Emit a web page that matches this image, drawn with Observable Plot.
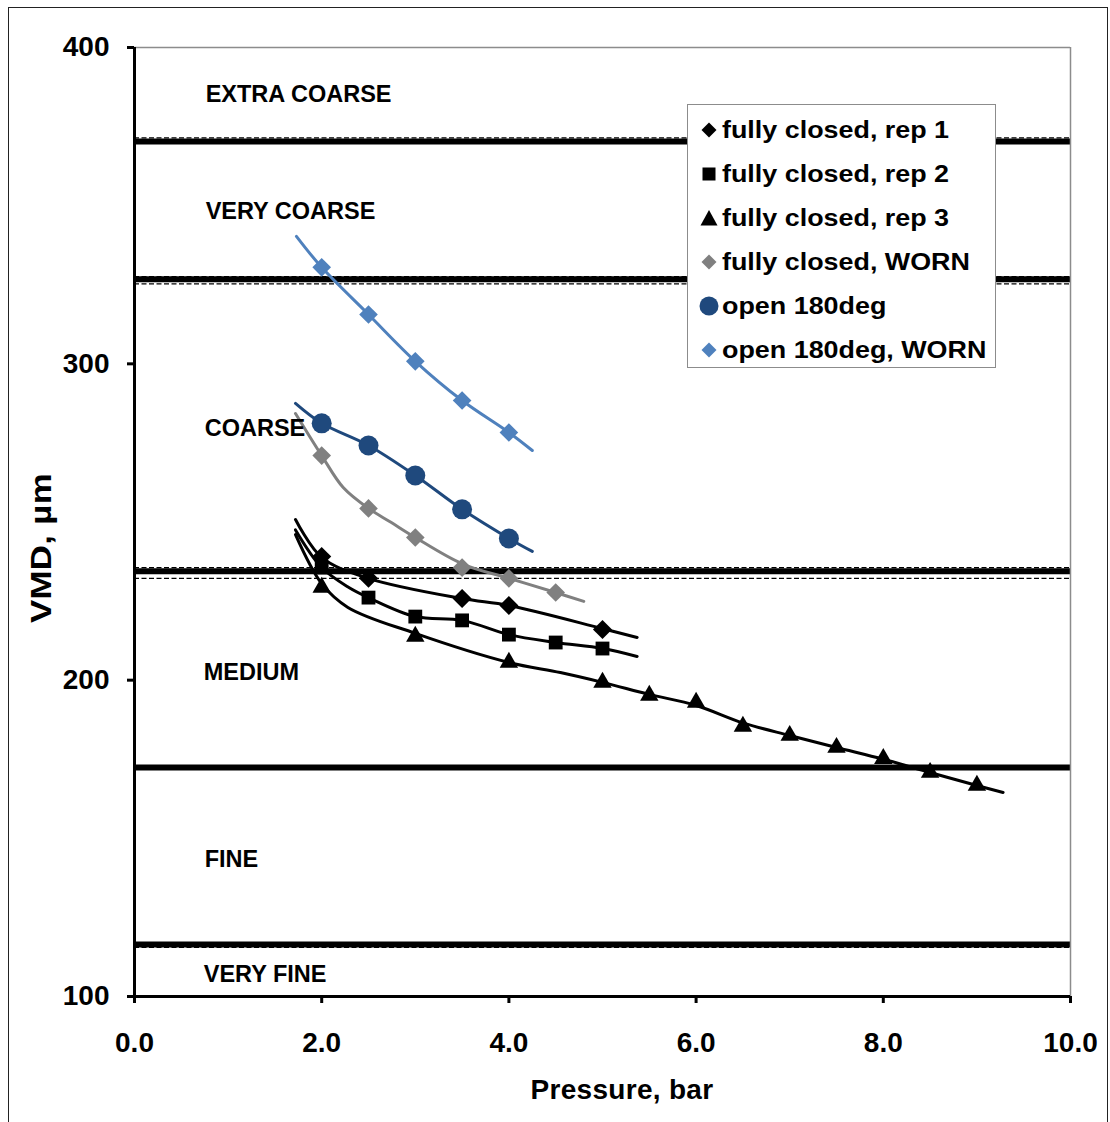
<!DOCTYPE html>
<html>
<head>
<meta charset="utf-8">
<script src="https://cdn.jsdelivr.net/npm/d3@7"></script>
<script src="https://cdn.jsdelivr.net/npm/@observablehq/plot@0.6"></script>
<style>
  body { margin: 0; background: #fff; font-family: "Liberation Sans", Arial, sans-serif; }
  #wrap { position: relative; width: 1110px; height: 1122px; overflow: hidden; background: #fff; }
  #wrap svg.plot { position: absolute; left: 0; top: 0; }
  #border { position: absolute; left: 8px; top: 7px; width: 1100px; height: 1200px; border: 1.5px solid #222; box-sizing: border-box; pointer-events: none; }
  .axis-title { position: absolute; font-weight: bold; font-size: 28px; letter-spacing: 0.3px; color: #000; white-space: nowrap; }
  #xtitle { left: 622px; top: 1090px; transform: translate(-50%, -50%); }
  #ytitle { left: 41px; top: 548px; font-size: 29px; transform: translate(-50%, -50%) rotate(-90deg) scaleX(1.2); }
  #legend { position: absolute; left: 687px; top: 104px; width: 309px; height: 264px; box-sizing: border-box; border: 1.5px solid #8c8c8c; background: #fff; }
  .lrow { position: absolute; left: 0; height: 30px; }
  .lrow svg { position: absolute; left: 11px; top: 5px; }
  .lrow span { position: absolute; left: 34px; top: 50%; transform: translateY(-50%) scaleX(1.12); transform-origin: left center; font-weight: bold; font-size: 24px; white-space: nowrap; color: #000; }
</style>
</head>
<body>
<div id="wrap">
  <div id="border"></div>
  <div id="legend"></div>
  <div id="xtitle" class="axis-title">Pressure, bar</div>
  <div id="ytitle" class="axis-title">VMD, µm</div>
</div>
<script>
// ---------- data ----------
const pressureRep1 = [2, 2.5, 3.5, 4, 5];
const vmdRep1 = [239.1, 232.2, 225.8, 223.6, 216.0];
const pressureRep2 = [2, 2.5, 3, 3.5, 4, 4.5, 5];
const vmdRep2 = [235.6, 226.1, 220.1, 218.9, 214.4, 211.9, 210.0];
const pressureRep3 = [2, 3, 4, 5, 5.5, 6, 6.5, 7, 7.5, 8, 8.5, 9];
const vmdRep3 = [229.3, 213.8, 205.6, 199.3, 195.2, 193.0, 185.4, 182.5, 178.7, 175.2, 170.8, 166.7];
const pressureWorn = [2, 2.5, 3, 3.5, 4, 4.5];
const vmdWorn = [271.0, 254.3, 245.1, 235.6, 232.2, 227.7];
const pressureOpen = [2, 2.5, 3, 3.5, 4];
const vmdOpen = [281.2, 274.2, 264.7, 254.0, 244.8];
const pressureOpenWorn = [2, 2.5, 3, 3.5, 4];
const vmdOpenWorn = [330.5, 315.6, 300.8, 288.4, 278.3];

// trend lines
const trendRep1X = [1.72, 2.0, 2.5, 3.5, 4.0, 5.0, 5.37];
const trendRep1Y = [250.8, 238.8, 232.2, 225.8, 223.6, 216.3, 213.5];
const trendRep2X = [1.72, 2.0, 2.29, 2.5, 3.0, 3.5, 4.0, 4.5, 5.0, 5.37];
const trendRep2Y = [247.5, 235.6, 229.3, 226.1, 220.1, 218.9, 214.4, 211.9, 210.0, 207.5];
const trendRep3X = [1.72, 2.0, 2.28, 3.0, 4.0, 4.55, 5.0, 5.5, 6.0, 6.5, 7.0, 7.5, 8.0, 8.5, 9.0, 9.28];
const trendRep3Y = [246.0, 230.5, 223.0, 214.8, 205.6, 202.4, 199.3, 195.5, 192.0, 186.5, 182.5, 178.7, 175.0, 170.8, 166.7, 164.5];
const trendWornX = [1.72, 2.0, 2.23, 2.5, 2.74, 3.0, 3.5, 4.0, 4.5, 4.8];
const trendWornY = [284.3, 271.0, 260.9, 254.3, 249.9, 245.1, 236.8, 232.2, 227.7, 224.9];
const trendOpenX = [1.72, 2.0, 2.5, 3.0, 3.5, 4.0, 4.25];
const trendOpenY = [287.5, 281.2, 274.2, 264.7, 254.0, 244.8, 240.7];
const trendOpenWornX = [1.73, 2.0, 2.5, 3.0, 3.5, 4.0, 4.25];
const trendOpenWornY = [340.3, 330.5, 315.6, 300.8, 288.4, 278.3, 272.6];

// droplet class boundaries
const classThick = [370.3, 326.7, 234.4, 172.4, 116.4];
const classDashed = [371.4, 327.6, 325.3, 235.6, 232.2, 115.5];
const bandNames = ["EXTRA COARSE", "VERY COARSE", "COARSE", "MEDIUM", "FINE", "VERY FINE"];
const bandVmd = [385.0, 348.2, 279.6, 202.4, 143.3, 107.0];
const bandPressure = [0.76, 0.76, 0.75, 0.74, 0.75, 0.74];

const seriesNames = ["fully closed, rep 1", "fully closed, rep 2", "fully closed, rep 3", "fully closed, WORN", "open 180deg", "open 180deg, WORN"];
const xTicks = [0, 2, 4, 6, 8, 10];
const yTicks = [100, 200, 300, 400];

// ---------- styles ----------
const seriesStyle = [
  {color: "#000000", symbol: "diamond2", r: 8.6},
  {color: "#000000", symbol: "square2", r: 8.8},
  {color: "#000000", symbol: "triangle2", r: 8.8},
  {color: "#808080", symbol: "diamond2", r: 8.4},
  {color: "#1F497D", symbol: "circle", r: 10},
  {color: "#4F81BD", symbol: "diamond2", r: 8.4}
];
const pointX = [pressureRep1, pressureRep2, pressureRep3, pressureWorn, pressureOpen, pressureOpenWorn];
const pointY = [vmdRep1, vmdRep2, vmdRep3, vmdWorn, vmdOpen, vmdOpenWorn];
const trendX = [trendRep1X, trendRep2X, trendRep3X, trendWornX, trendOpenX, trendOpenWornX];
const trendY = [trendRep1Y, trendRep2Y, trendRep3Y, trendWornY, trendOpenY, trendOpenWornY];

const lineMarks = [];
const dotMarks = [];
seriesNames.forEach((name, i) => {
  const st = seriesStyle[i];
  const tr = trendX[i].map((x, j) => ({x, y: trendY[i][j]}));
  lineMarks.push(Plot.line(tr, {x: "x", y: "y", stroke: st.color, strokeWidth: 3, curve: "catmull-rom"}));
  const pts = pointX[i].map((x, j) => ({x, y: pointY[i][j]}));
  dotMarks.push(Plot.dot(pts, {x: "x", y: "y", symbol: () => st.symbol, r: st.r, fill: st.color, stroke: "none"}));
});

const bands = bandNames.map((n, i) => ({name: n, x: bandPressure[i], y: bandVmd[i]}));

const chart = Plot.plot({
  width: 1110,
  height: 1122,
  marginLeft: 134,
  marginRight: 40,
  marginTop: 47,
  marginBottom: 126,
  style: {fontFamily: "'Liberation Sans', Arial, sans-serif", fontWeight: "bold", background: "transparent", color: "#000"},
  x: {domain: [0, 10]},
  y: {domain: [100, 400]},
  symbol: {type: "identity"},
  marks: [
    Plot.ruleY(classThick, {y: d => d, stroke: "#000", strokeWidth: 6}),
    Plot.ruleY(classDashed, {y: d => d, stroke: "#000", strokeWidth: 1.2, strokeDasharray: "5,2.5"}),
    Plot.ruleY([400], {stroke: "#8c8c8c", strokeWidth: 1.5}),
    Plot.ruleX([10], {stroke: "#8c8c8c", strokeWidth: 1.5}),
    ...lineMarks,
    ...dotMarks,
    Plot.text(bands, {x: "x", y: "y", text: "name", textAnchor: "start", fontSize: 23.5, fontWeight: "bold", fill: "#000"}),
    Plot.axisX({ticks: xTicks, tickFormat: d3.format(".1f"), tickSize: 7, tickPadding: 29, strokeWidth: 3, fontSize: 28, fontWeight: "bold", label: null}),
    Plot.axisY({ticks: yTicks, tickFormat: d3.format("d"), tickSize: 7, tickPadding: 18, strokeWidth: 3, fontSize: 28, fontWeight: "bold", label: null}),
    Plot.ruleY([100], {stroke: "#000", strokeWidth: 3}),
    Plot.ruleX([0], {stroke: "#000", strokeWidth: 3})
  ]
});
chart.classList.add("plot");
document.getElementById("wrap").insertBefore(chart, document.getElementById("border"));

// ---------- legend ----------
const legend = document.getElementById("legend");
const rowTops = [25, 69, 113, 157, 201, 245];
function symbolSvg(kind, color) {
  const ns = "http://www.w3.org/2000/svg";
  const svg = document.createElementNS(ns, "svg");
  svg.setAttribute("width", 20); svg.setAttribute("height", 20);
  let el;
  if (kind === "diamond2") {
    el = document.createElementNS(ns, "polygon");
    el.setAttribute("points", "10,2.5 17.5,10 10,17.5 2.5,10");
  } else if (kind === "square2") {
    el = document.createElementNS(ns, "rect");
    el.setAttribute("x", 3.5); el.setAttribute("y", 3.5); el.setAttribute("width", 13); el.setAttribute("height", 13);
  } else if (kind === "triangle2") {
    el = document.createElementNS(ns, "polygon");
    el.setAttribute("points", "10,2 18.5,17.5 1.5,17.5");
  } else {
    el = document.createElementNS(ns, "circle");
    el.setAttribute("cx", 10); el.setAttribute("cy", 10); el.setAttribute("r", 9.5);
  }
  el.setAttribute("fill", color);
  svg.appendChild(el);
  return svg;
}
seriesNames.forEach((name, i) => {
  const row = document.createElement("div");
  row.className = "lrow";
  row.style.top = (rowTops[i] - 15) + "px";
  row.style.width = "300px";
  row.appendChild(symbolSvg(seriesStyle[i].symbol, seriesStyle[i].color));
  const sp = document.createElement("span");
  sp.textContent = name;
  row.appendChild(sp);
  legend.appendChild(row);
});
</script>
</body>
</html>
